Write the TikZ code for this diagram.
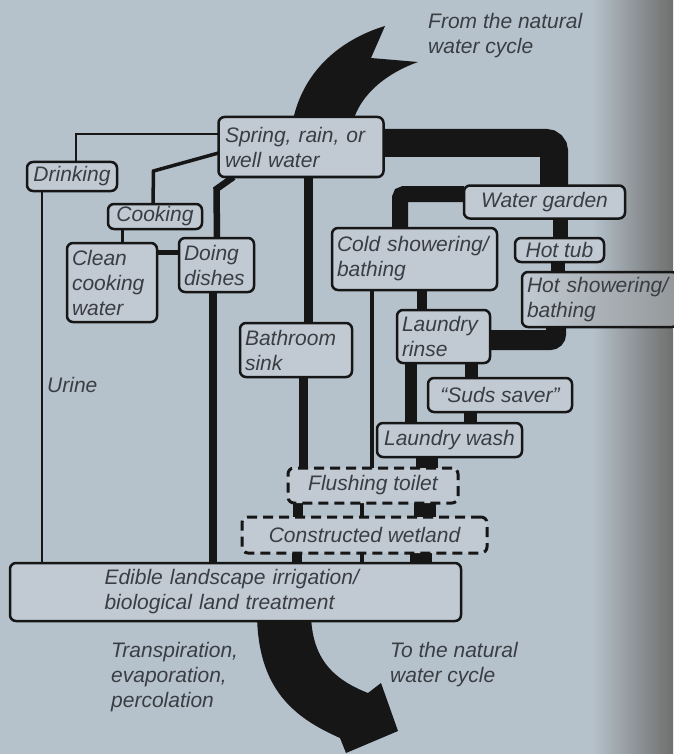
\documentclass[tikz,border=0pt]{standalone}
\usepackage{fontspec}
\setmainfont{Liberation Sans}
\usepackage{xcolor}
\usepackage{tikz}
\pgfdeclarelayer{paper}
\pgfdeclarelayer{pipes}
\pgfsetlayers{paper,pipes,main}
\definecolor{paper}{HTML}{B5C1CB}
\definecolor{boxfill}{HTML}{C1CAD2}
\definecolor{edge}{HTML}{6F6F6D}
\definecolor{ink}{HTML}{161616}
\definecolor{textc}{HTML}{3A3E44}

\begin{document}
\begin{tikzpicture}[x=1pt,y=-1pt,line join=round]
  \tikzstyle{box}=[draw=ink,line width=2.5pt,fill=boxfill,rounded corners=6pt,text=textc,font=\fontsize{21}{25}\selectfont\itshape,inner xsep=5pt,inner ysep=2pt,outer sep=0pt,align=left]
  \tikzstyle{bogbox}=[box,dash pattern=on 10pt off 6pt,line width=3pt]
  \tikzstyle{note}=[text=textc,font=\fontsize{21}{25}\selectfont\itshape,inner sep=0pt,align=left]
  \tikzstyle{pipe}=[draw=ink,line cap=butt]

  \useasboundingbox (0,0) rectangle (673,754);

  % Supply and uses
  \node [box,minimum width=165pt,minimum height=60pt,text width=152pt] (spring) at (301,147) {Spring, rain, or\\well water};
  \node [box,minimum width=90pt,minimum height=29pt] (drinking) at (72,176.5) {Drinking};
  \node [box,minimum width=94pt,minimum height=25pt] (cooking) at (155,216.5) {Cooking};
  \node [box,minimum width=90pt,minimum height=79pt,text width=80pt] (clean) at (112,282.5) {Clean\\cooking\\water};
  \node [box,minimum width=75pt,minimum height=54pt,text width=65pt] (dishes) at (216.5,265) {Doing\\dishes};
  \node [box,minimum width=112pt,minimum height=54pt,text width=102pt] (bathroom) at (296,350) {Bathroom\\sink};
  \node [box,minimum width=161pt,minimum height=33pt] (garden) at (544.5,202) {Water garden};
  \node [box,minimum width=165pt,minimum height=62pt,text width=155pt] (cold) at (414.5,259) {Cold showering/\\bathing};
  \node [box,minimum width=89pt,minimum height=24pt] (hottub) at (559.5,250) {Hot tub};
  \node [box,anchor=west,minimum width=156pt,minimum height=55pt,text width=146pt,left color=boxfill,right color=edge!55!boxfill] (hotshower) at (522,299.5) {Hot showering/\\bathing};
  \node [box,minimum width=93pt,minimum height=53pt,text width=83pt] (rinse) at (443.5,336.5) {Laundry\\rinse};
  \node [box,minimum width=144pt,minimum height=34pt] (suds) at (500,395) {``Suds saver''};
  \node [box,minimum width=145pt,minimum height=34pt] (wash) at (449.5,440) {Laundry wash};

  % Treatment
  \node [bogbox,minimum width=170pt,minimum height=35pt] (toilet) at (373,485.5) {Flushing toilet};
  \node [bogbox,minimum width=245pt,minimum height=36pt] (wetland) at (364.5,535) {Constructed wetland};
  \node [box,minimum width=451pt,minimum height=58pt,text width=262pt] (edible) at (235.5,592) {Edible landscape irrigation/\\biological land treatment};

  % Labels
  \node [note,anchor=north west] (fromlbl) at (428,13) {From the natural\\water cycle};
  \node [note,anchor=west] (urinelbl) at (47,384.5) {Urine};
  \node [note,anchor=north west] (translbl) at (111,642) {Transpiration,\\evaporation,\\percolation};
  \node [note,anchor=north west] (tolbl) at (390,642) {To the natural\\water cycle};

  \begin{pgfonlayer}{pipes}
  % Big arrows
  \fill[ink] (292,125) .. controls (302,68) and (345,38) .. (385,26) -- (371,58) -- (418,62) .. controls (390,72) and (360,92) .. (352,125) -- cycle;
  \fill[ink] (257,612) .. controls (257,690) and (295,718) .. (340,738) -- (346,753) -- (398,731) -- (381,683) -- (368,693) .. controls (335,680) and (311,660) .. (311,612) -- cycle;

  % Pipes
  \draw[pipe,line width=2.2pt] ([yshift=13pt]spring.west) -| ([xshift=49pt]drinking.north west);
  \draw[pipe,line width=2.2pt] ([xshift=15pt]drinking.south west) -- ([xshift=15pt]drinking.south west |- edible.center);
  \draw[pipe,line width=3.5pt] ([yshift=-6pt]spring.west) -- ++(-65,18) -- ([xshift=45pt]cooking.north west);
  \draw[pipe,line width=3pt] ([xshift=14pt]cooking.south west) -- ([xshift=14pt]cooking.south west |- clean.north);
  \draw[pipe,line width=5pt] ([yshift=30pt]clean.east) -- ([yshift=30pt]clean.east -| dishes.west);
  \draw[pipe,line width=6.5pt] ([xshift=15pt]spring.south west) -- ++(-17,12) -- ([xshift=38pt]dishes.north west);
  \draw[pipe,line width=7.5pt] ([xshift=34pt]dishes.south west) -- ([xshift=34pt]dishes.south west |- edible.center);
  \draw[pipe,line width=9pt] ([xshift=90pt]spring.south west) -- ([xshift=90pt]spring.south west |- bathroom.north);
  \draw[pipe,line width=9pt] ([xshift=63pt]bathroom.south west) -- ([xshift=63pt]bathroom.south west |- toilet.center);
  \draw[pipe,line width=10pt] ([xshift=10pt]toilet.south west) -- ([xshift=10pt]toilet.south west |- wetland.center);
  \draw[pipe,line width=10pt] ([xshift=55pt]wetland.south west) -- ([xshift=55pt]wetland.south west |- edible.center);
  \draw[pipe,line width=28pt,rounded corners=8pt] ([yshift=4pt]spring.east) -| ([xshift=90pt]garden.north west);
  \draw[pipe,line width=15pt] ([xshift=96pt]garden.south west) -- ([xshift=96pt]garden.south west |- hottub.north);
  \draw[pipe,line width=14pt] ([xshift=43pt]hottub.south west) -- ([xshift=43pt]hottub.south west |- hotshower.north);
  \draw[pipe,line width=20pt,rounded corners=6pt] ([xshift=34pt]hotshower.south west) |- ([yshift=-3.5pt]rinse.east);
  \draw[pipe,line width=16pt,rounded corners=4pt] ([yshift=8pt]garden.west) -| ([xshift=68pt]cold.north west);
  \draw[pipe,line width=4pt] ([xshift=40pt]cold.south west) -- ([xshift=40pt]cold.south west |- toilet.center);
  \draw[pipe,line width=4pt] ([xshift=74pt]toilet.south west) -- ([xshift=74pt]toilet.south west |- wetland.center);
  \draw[pipe,line width=4pt] ([xshift=120pt]wetland.south west) -- ([xshift=120pt]wetland.south west |- edible.center);
  \draw[pipe,line width=10pt] ([xshift=90pt]cold.south west) -- ([xshift=90pt]cold.south west |- rinse.north);
  \draw[pipe,line width=12pt] ([xshift=14pt]rinse.south west) -- ([xshift=14pt]rinse.south west |- wash.north);
  \draw[pipe,line width=13pt] ([xshift=74pt]rinse.south west) -- ([xshift=74pt]rinse.south west |- suds.north);
  \draw[pipe,line width=13pt] ([xshift=42pt]suds.south west) -- ([xshift=42pt]suds.south west |- wash.north);
  \draw[pipe,line width=22pt] ([xshift=50pt]wash.south west) -- ([xshift=50pt]wash.south west |- toilet.center);
  \draw[pipe,line width=22pt] ([xshift=137pt]toilet.south west) -- ([xshift=137pt]toilet.south west |- wetland.center);
  \draw[pipe,line width=22pt] ([xshift=179pt]wetland.south west) -- ([xshift=179pt]wetland.south west |- edible.center);
  \end{pgfonlayer}

  \begin{pgfonlayer}{paper}
  \fill[paper] (0,0) rectangle (592,754);
  \shade[left color=paper,right color=edge] (592,0) rectangle (673,754);
  \end{pgfonlayer}
\end{tikzpicture}
\end{document}
